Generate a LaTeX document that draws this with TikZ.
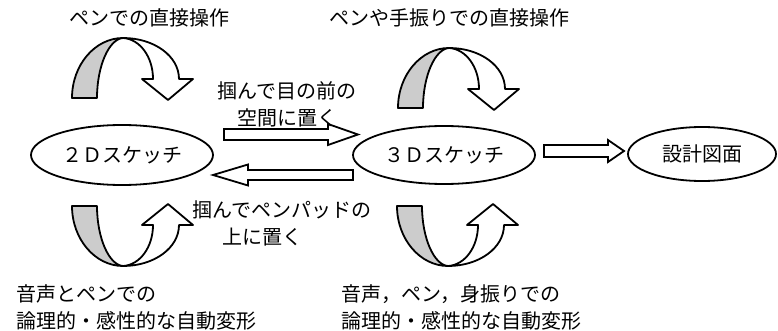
\documentclass[tikz,border=0pt]{standalone}
\usepackage{fontspec}
\setmainfont{Noto Sans CJK JP}
\usetikzlibrary{shapes.geometric,calc}
\definecolor{bandgray}{RGB}{204,204,204}
\newcommand\curvarr[1]{%
\begin{scope}[#1]
 \draw[outl, fill=bandgray] (72,98) .. controls (72,65) and (95,38) .. (123,38)
   .. controls (109,39) and (97,66) .. (97,98) -- cycle;
 \draw[outl, fill=white] (123,38) .. controls (154,38) and (179,56) .. (179,79)
   -- (193,79) -- (168,100) -- (142,79) -- (153,79)
   .. controls (153,57) and (140,39) .. (123,38) -- cycle;
\end{scope}}
\newcommand\bkarrow[5]{%
 \draw[outl, fill=white, line join=miter] let \p1=(#1), \p2=(#2), \p3=($(#2)!#3!(#1)$) in
   (\x1,\y1-#4) -- (\x3,\y1-#4) -- (\x3,\y1-#5) -- (\x2,\y2) -- (\x3,\y1+#5)
   -- (\x3,\y1+#4) -- (\x1,\y1+#4) -- cycle;}
\begin{document}
\begin{tikzpicture}[x=1pt,y=-1pt,
  font=\fontsize{20pt}{27pt}\selectfont,
  outl/.style={line width=1.8pt, draw=black, line join=round},
  blob/.style={ellipse, draw=black, line width=1.8pt, inner sep=0pt, fill=white},
  lbl/.style={inner sep=0pt}]
\useasboundingbox (0,0) rectangle (778,331);

% curved arrows
\curvarr{}
\curvarr{shift={(326,10)}}
\curvarr{shift={(0,304)}, yscale=-1}
\curvarr{shift={(325,304)}, yscale=-1}

% ellipses
\node[blob, minimum width=182pt, minimum height=60pt] (s2) at (122,155) {２Ｄスケッチ};
\node[blob, minimum width=182pt, minimum height=58pt] (s3) at (444,155) {３Ｄスケッチ};
\node[blob, minimum width=148pt, minimum height=54pt] (dz) at (702,154) {設計図面};

% block arrows
\coordinate (a1t) at (224,134.5); \coordinate (a1h) at (358,134.5);
\bkarrow{a1t}{a1h}{30pt}{5.5pt}{10.5pt}
\coordinate (a2t) at (353,175); \coordinate (a2h) at (213,175);
\bkarrow{a2t}{a2h}{35pt}{5pt}{10.5pt}
\coordinate (a3t) at (544,151); \coordinate (a3h) at (624,151);
\bkarrow{a3t}{a3h}{16pt}{6pt}{11pt}

% labels
\node[lbl, anchor=west] (t1) at (69,18) {ペンでの直接操作};
\node[lbl, anchor=west] (t2) at (329,18) {ペンや手振りでの直接操作};
\node[lbl] (m1) at (287,91) {掴んで目の前の};
\node[lbl] (m2) at (287,118) {空間に置く};
\node[lbl, anchor=west] (m3) at (192,210) {掴んでペンパッドの};
\node[lbl, anchor=west] (m4) at (222,237) {上に置く};
\node[lbl, anchor=west] (b1) at (16,294) {音声とペンでの};
\node[lbl, anchor=west] (b2) at (16,321) {論理的・感性的な自動変形};
\node[lbl, anchor=west] (b3) at (341,294) {音声，ペン，身振りでの};
\node[lbl, anchor=west] (b4) at (341,321) {論理的・感性的な自動変形};
\end{tikzpicture}
\end{document}
